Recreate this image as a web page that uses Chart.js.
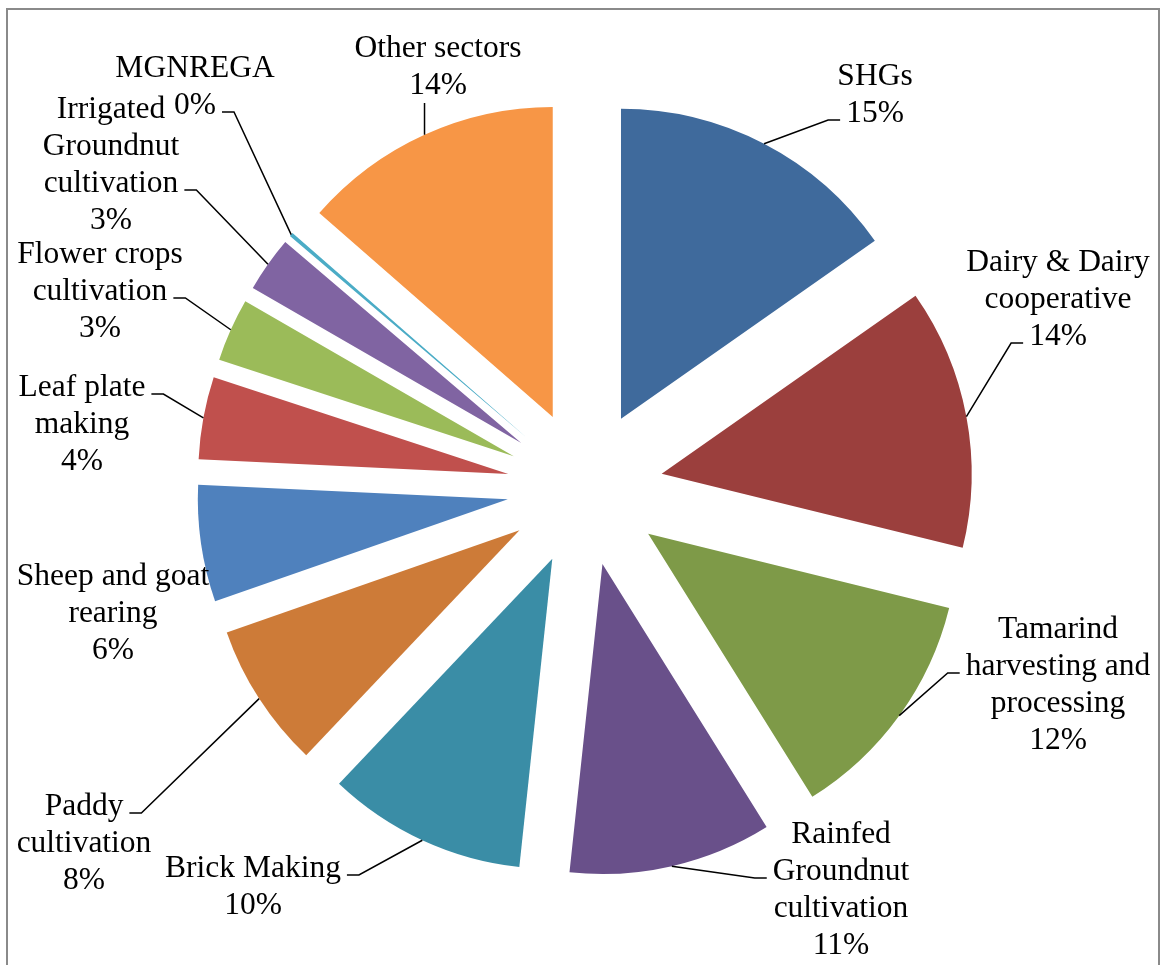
<!DOCTYPE html>
<html>
<head>
<meta charset="utf-8">
<script src="https://cdn.jsdelivr.net/npm/chart.js@4"></script>
<style>
  html, body { margin: 0; padding: 0; background: #fff; overflow: hidden; }
  #wrap { position: relative; width: 1160px; height: 965px; }
  #frame { position: absolute; left: 6px; top: 8px; width: 1154px; height: 1000px;
           box-sizing: border-box; border: 2px solid #8a8a8a; }
  #myChart { position: absolute; left: 0; top: 0; }
</style>
</head>
<body>
<div id="wrap">
  <div id="frame"></div>
  <canvas id="myChart" width="1160" height="965"></canvas>
</div>
<script>
// DATA
const categories = [
    ['SHGs'],
    ['Dairy & Dairy', 'cooperative'],
    ['Tamarind', 'harvesting and', 'processing'],
    ['Rainfed', 'Groundnut', 'cultivation'],
    ['Brick Making'],
    ['Paddy', 'cultivation'],
    ['Sheep and goat', 'rearing'],
    ['Leaf plate', 'making'],
    ['Flower crops', 'cultivation'],
    ['Irrigated', 'Groundnut', 'cultivation'],
    ['MGNREGA'],
    ['Other sectors']
];
const shares = [15.3, 13.6, 12.3, 10.6, 10.4, 7.6, 6.1, 4.3, 3.3, 2.9, 0.2, 13.6];
const sliceColors = [
    '#3F6A9C', '#9B3F3D', '#7E9A48', '#69508A', '#3A8DA6', '#CD7B38',
    '#4F81BD', '#C0504D', '#9BBB59', '#8064A2', '#4BACC6', '#F79646'
];

// label layout, relative to the pie centre (dx = text centre, dy = first baseline)
const labelLayout = [
    { dx: 290, dy: -403, line: 1, side: 'left' },
    { dx: 473, dy: -217, line: 2, side: 'left' },
    { dx: 473, dy: 150, line: 1, side: 'left' },
    { dx: 256, dy: 355, line: 1, side: 'left' },
    { dx: -332, dy: 389, line: 0, side: 'right' },
    { dx: -501, dy: 327, line: 0, side: 'right' },
    { dx: -472, dy: 97, side: null },
    { dx: -503, dy: -92, line: 0, side: 'right' },
    { dx: -485, dy: -225, line: 1, side: 'right' },
    { dx: -474, dy: -370, line: 2, side: 'right' },
    { dx: -390, dy: -411, line: 1, side: 'right' },
    { dx: -147, dy: -431, side: 'bottom' }
];

const EXPLODE = 78;
const LINE_H = 37;
const FONT = '31.5px "Liberation Serif", "Times New Roman", serif';

// Slices pulled out + labels with leader lines
const explodePlugin = {
    id: 'explode',
    beforeDatasetDraw(chart, args) {
        const ctx = chart.ctx;
        args.meta.data.forEach(function (arc) {
            const mid = (arc.startAngle + arc.endAngle) / 2;
            ctx.save();
            ctx.translate(Math.cos(mid) * EXPLODE, Math.sin(mid) * EXPLODE);
            arc.draw(ctx);
            ctx.restore();
        });
        return false;
    },
    afterDatasetsDraw(chart) {
        const ctx = chart.ctx;
        const meta = chart.getDatasetMeta(0);
        const total = shares.reduce((a, b) => a + b, 0);

        ctx.save();
        ctx.font = FONT;
        ctx.fillStyle = '#000';
        ctx.textAlign = 'center';
        ctx.textBaseline = 'alphabetic';
        ctx.strokeStyle = '#000';
        ctx.lineWidth = 1.5;

        meta.data.forEach(function (arc, i) {
            const lay = labelLayout[i];
            const lines = categories[i].concat([Math.round(shares[i] / total * 100) + '%']);
            const cx = arc.x + lay.dx;
            const by = arc.y + lay.dy;
            lines.forEach(function (t, k) {
                ctx.fillText(t, cx, by + k * LINE_H);
            });

            if (!lay.side) return;
            const mid = (arc.startAngle + arc.endAngle) / 2;
            const px = arc.x + Math.cos(mid) * (EXPLODE + arc.outerRadius);
            const py = arc.y + Math.sin(mid) * (EXPLODE + arc.outerRadius);

            ctx.beginPath();
            ctx.moveTo(px, py);
            if (lay.side === 'bottom') {
                ctx.lineTo(px, by + (lines.length - 1) * LINE_H + 9);
            } else {
                const w = ctx.measureText(lines[lay.line]).width;
                const sy = by + lay.line * LINE_H - 2;
                const near = lay.side === 'left' ? cx - w / 2 - 6 : cx + w / 2 + 6;
                const far = lay.side === 'left' ? near - 12 : near + 12;
                ctx.lineTo(far, sy);
                ctx.lineTo(near, sy);
            }
            ctx.stroke();
        });
        ctx.restore();
    }
};

const data = {
    labels: categories,
    datasets: [{
        data: shares,
        backgroundColor: sliceColors,
        borderWidth: 0
    }]
};

const config = {
    type: 'pie',
    data: data,
    options: {
        responsive: false,
        animation: false,
        radius: 310,
        layout: { padding: { left: 10, right: 0, top: 11, bottom: 0 } },
        plugins: {
            legend: { display: false },
            tooltip: { enabled: false }
        }
    },
    plugins: [explodePlugin]
};

const myChart = new Chart(document.getElementById('myChart'), config);
</script>
</body>
</html>
